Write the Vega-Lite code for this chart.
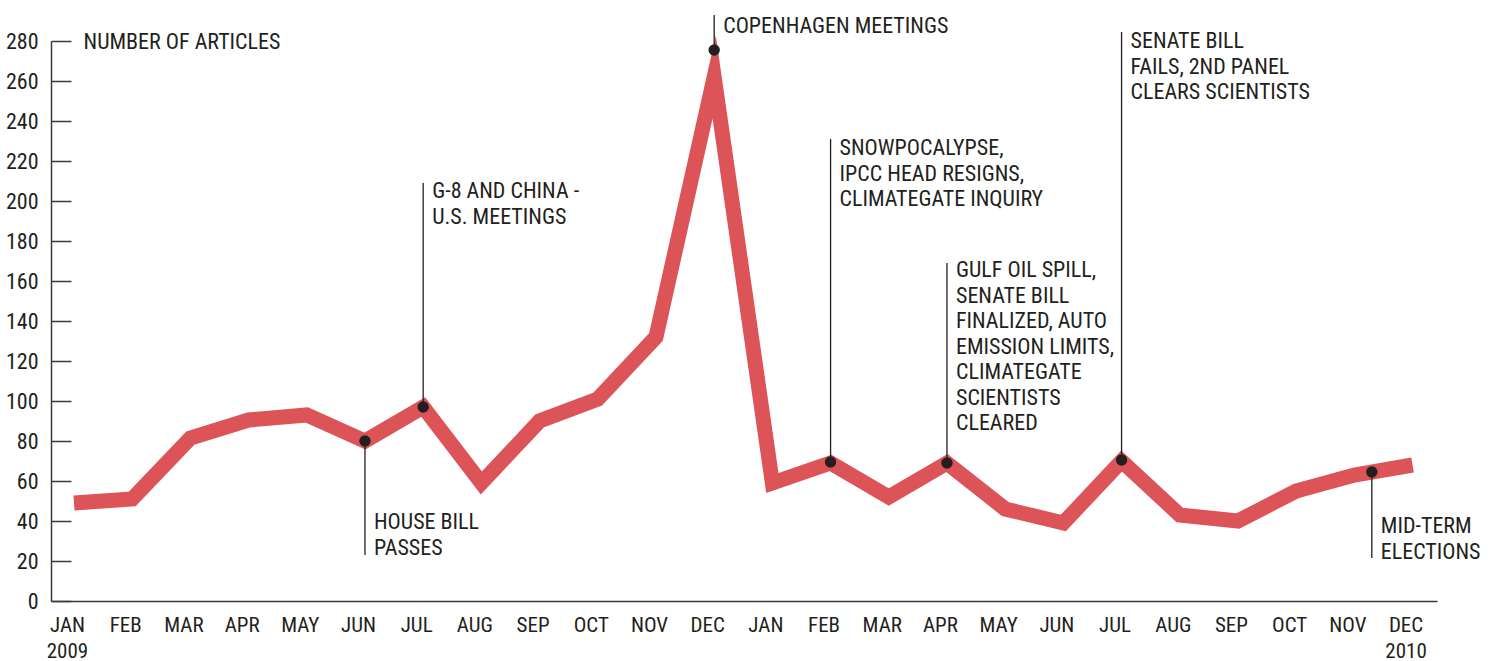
{
  "$schema": "https://vega.github.io/schema/vega-lite/v6.json",
  "width": 1386,
  "height": 560,
  "autosize": "none",
  "padding": {"left": 51, "top": 41, "right": 55, "bottom": 60},
  "background": "white",
  "config": {
    "view": {"stroke": null},
    "font": "Roboto Condensed, Liberation Sans Narrow, DejaVu Sans Condensed, sans-serif",
    "text": {"font": "Roboto Condensed, Liberation Sans Narrow, DejaVu Sans Condensed, sans-serif"}
  },
  "resolve": {"scale": {"x": "shared", "y": "shared"}, "axis": {"x": "independent", "y": "independent"}},
  "datasets": {
    "articles": [
      {"i": 0, "count": 49}, {"i": 1, "count": 51}, {"i": 2, "count": 81.5}, {"i": 3, "count": 90.5},
      {"i": 4, "count": 93}, {"i": 5, "count": 80}, {"i": 6, "count": 97}, {"i": 7, "count": 59},
      {"i": 8, "count": 90}, {"i": 9, "count": 101}, {"i": 10, "count": 132}, {"i": 11, "count": 262},
      {"i": 12, "count": 59}, {"i": 13, "count": 69}, {"i": 14, "count": 52}, {"i": 15, "count": 69},
      {"i": 16, "count": 46}, {"i": 17, "count": 39}, {"i": 18, "count": 70}, {"i": 19, "count": 43},
      {"i": 20, "count": 40}, {"i": 21, "count": 55}, {"i": 22, "count": 63}, {"i": 23, "count": 68}
    ],
    "events": [
      {"i": 5, "dot": 80, "end": 23, "ty": 36, "label": "HOUSE BILL\n\u2002PASSES"},
      {"i": 6, "dot": 97, "end": 209, "ty": 201.5, "label": "G-8 AND CHINA -\nU.S. MEETINGS"},
      {"i": 11, "dot": 275.5, "end": 293, "ty": 284, "label": "COPENHAGEN MEETINGS"},
      {"i": 13, "dot": 69.5, "end": 231, "ty": 223, "label": "SNOWPOCALYPSE,\nIPCC HEAD RESIGNS,\nCLIMATEGATE INQUIRY"},
      {"i": 15, "dot": 69, "end": 169, "ty": 162, "label": "GULF OIL SPILL,\nSENATE BILL\nFINALIZED, AUTO\nEMISSION LIMITS,\nCLIMATEGATE\nSCIENTISTS\nCLEARED"},
      {"i": 18, "dot": 70.5, "end": 284.5, "ty": 276.5, "label": "SENATE BILL\nFAILS, 2ND PANEL\nCLEARS SCIENTISTS"},
      {"i": 22.3, "dot": 64.5, "end": 21.5, "ty": 34, "label": "MID-TERM\nELECTIONS"}
    ]
  },
  "layer": [
    {
      "data": {"name": "articles"},
      "mark": {"type": "line", "color": "#dc5458", "strokeWidth": 15, "strokeCap": "butt", "strokeJoin": "miter", "strokeMiterLimit": 10, "clip": false},
      "encoding": {
        "x": {
          "field": "i", "type": "quantitative",
          "scale": {"domain": [-0.395, 23.42], "nice": false, "zero": false},
          "axis": {
            "title": null,
            "values": [0,1,2,3,4,5,6,7,8,9,10,11,12,13,14,15,16,17,18,19,20,21,22,23],
            "labelExpr": "datum.value == 0 ? ['JAN','2009'] : datum.value == 23 ? ['DEC','2010'] : ['JAN','FEB','MAR','APR','MAY','JUN','JUL','AUG','SEP','OCT','NOV','DEC'][datum.value % 12]",
            "ticks": false,
            "grid": false,
            "domainColor": "#3a3a3a",
            "domainWidth": 1.5,
            "labelFontSize": 21,
            "labelColor": "#231f20",
            "labelPadding": 13,
            "labelLineHeight": 26,
            "labelOffset": -7,
            "labelOverlap": false,
            "labelFlush": false
          }
        },
        "y": {
          "field": "count", "type": "quantitative",
          "scale": {"domain": [0, 280], "nice": false},
          "axis": {
            "title": "NUMBER OF ARTICLES",
            "titleAngle": 0,
            "titleX": 32,
            "titleY": 0,
            "titleAlign": "left",
            "titleBaseline": "middle",
            "titleFontSize": 22,
            "titleFontWeight": "normal",
            "titleColor": "#231f20",
            "values": [0,20,40,60,80,100,120,140,160,180,200,220,240,260,280],
            "labelExpr": "datum.label",
            "grid": false,
            "tickSize": -20,
            "tickWidth": 1.5,
            "tickColor": "#3a3a3a",
            "domainColor": "#3a3a3a",
            "domainWidth": 1.5,
            "labelFontSize": 22,
            "labelColor": "#231f20",
            "labelPadding": 33,
            "labelBaseline": "middle",
            "labelOverlap": false,
            "labelFlush": false
          }
        }
      }
    },
    {
      "data": {"name": "events"},
      "mark": {"type": "rule", "color": "#231f20", "strokeWidth": 1.3, "clip": false},
      "encoding": {
        "x": {"field": "i", "type": "quantitative", "axis": null},
        "y": {"field": "dot", "type": "quantitative", "axis": null},
        "y2": {"field": "end"}
      }
    },
    {
      "data": {"name": "events"},
      "mark": {"type": "circle", "color": "#231f20", "opacity": 1, "size": 130, "clip": false},
      "encoding": {
        "x": {"field": "i", "type": "quantitative", "axis": null},
        "y": {"field": "dot", "type": "quantitative", "axis": null}
      }
    },
    {
      "data": {"name": "events"},
      "mark": {"type": "text", "align": "left", "baseline": "alphabetic", "dx": 9, "fontSize": 22, "lineHeight": 25.5, "lineBreak": "\n", "color": "#231f20", "clip": false},
      "encoding": {
        "x": {"field": "i", "type": "quantitative", "axis": null},
        "y": {"field": "ty", "type": "quantitative", "axis": null},
        "text": {"field": "label", "type": "nominal"}
      }
    }
  ]
}
